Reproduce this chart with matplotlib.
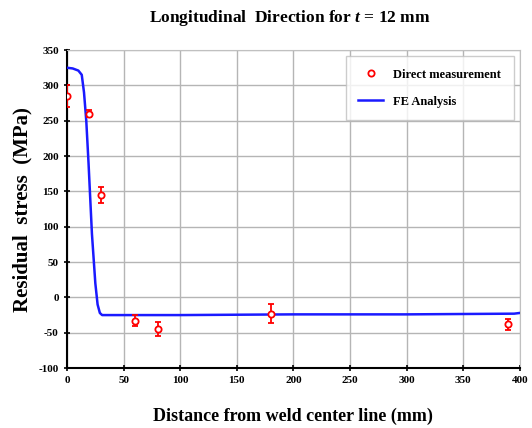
import matplotlib
matplotlib.use("Agg")
import matplotlib.pyplot as plt
from matplotlib.lines import Line2D

# Measured data
meas_x = [0, 19, 30, 60, 80, 180, 390]
meas_y = [285, 260, 145, -33, -45, -23, -38]
meas_err = [15, 5, 11, 8, 10, 13, 8]

# FE analysis curve
fe_x = [0, 5, 10, 13, 15, 17, 19, 22, 25, 27, 29, 31, 50, 100, 200, 300, 395, 400]
fe_y = [325, 324, 321, 315, 290, 250, 190, 90, 20, -10, -22, -25, -25, -25, -24, -24, -23, -22]

xticks = [0, 50, 100, 150, 200, 250, 300, 350, 400]
yticks = [-100, -50, 0, 50, 100, 150, 200, 250, 300, 350]

plt.rcParams['font.family'] = ['Liberation Serif', 'DejaVu Serif']
plt.rcParams['font.weight'] = 'bold'
plt.rcParams['axes.unicode_minus'] = False
plt.rcParams['mathtext.fontset'] = 'custom'
plt.rcParams['mathtext.it'] = 'Liberation Serif:italic:bold'
plt.rcParams['mathtext.rm'] = 'Liberation Serif:bold'

fig = plt.figure(figsize=(5.32, 4.28), dpi=100)
ax = fig.add_axes([0.126, 0.140, 0.851, 0.743])

ax.plot(fe_x, fe_y, color='#1a1aff', lw=1.8, zorder=3)
ax.errorbar(meas_x, meas_y, yerr=meas_err, fmt='o', mfc='white', mec='red',
            ecolor='red', color='red', ms=4.5, mew=1.3, elinewidth=1.3,
            capsize=2.5, capthick=1.3, zorder=4)

ax.set_xlim(0, 400)
ax.set_ylim(-100, 350)
ax.set_xticks(xticks)
ax.set_yticks(yticks)
ax.tick_params(axis='both', labelsize=8, direction='inout', length=5, width=1.2)
for lab in ax.get_xticklabels() + ax.get_yticklabels():
    lab.set_fontweight('bold')

ax.grid(True, color='#b5b5b5', lw=1.0)
ax.set_axisbelow(True)
for s in ['top', 'right']:
    ax.spines[s].set_color('#c0c0c0')
for s in ['left', 'bottom']:
    ax.spines[s].set_color('black')
    ax.spines[s].set_linewidth(1.5)

ax.set_xlabel('Distance from weld center line (mm)', fontsize=13, fontweight='bold', labelpad=16)
ax.set_ylabel('Residual  stress  (MPa)', fontsize=15, fontweight='bold', labelpad=4)
fig.text(0.545, 0.958, r'Longitudinal  Direction for $\mathit{t}$ = 12 mm', ha='center', va='center',
         fontsize=12.5, fontweight='bold')

handles = [Line2D([], [], ls='none', marker='o', mfc='white', mec='red', ms=4.5, mew=1.3),
           Line2D([], [], color='#1a1aff', lw=1.8)]
labels = ['Direct measurement', 'FE Analysis']
leg = ax.legend(handles, labels, loc='upper right', frameon=True, fancybox=False,
                edgecolor='#c0c0c0', borderpad=1.0, labelspacing=1.2, handlelength=2.0,
                prop={'weight': 'bold', 'size': 9})
leg.get_frame().set_linewidth(1.0)

fig.savefig('out.png', dpi=100)
